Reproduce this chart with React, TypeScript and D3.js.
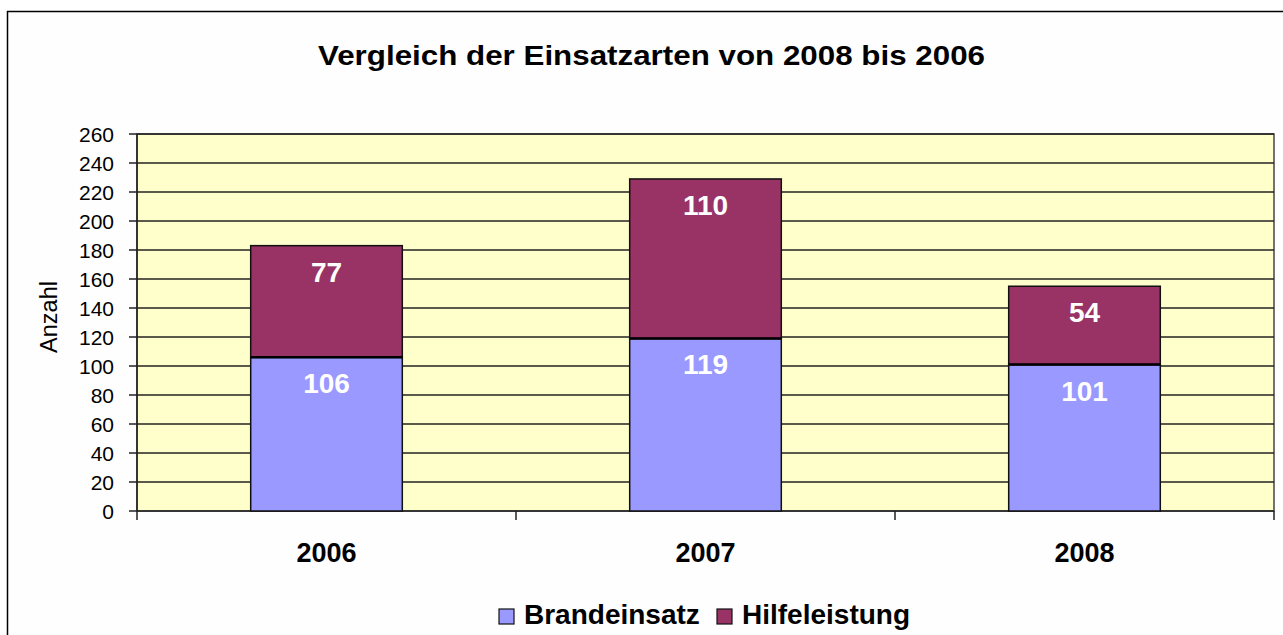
import React, { useEffect, useRef } from "react";
import * as d3 from "d3";

const categories = ["2006", "2007", "2008"];
const brandeinsatz = [106, 119, 101];
const hilfeleistung = [77, 110, 54];
const seriesNames = ["Brandeinsatz", "Hilfeleistung"];
const seriesColors = ["#9999FF", "#993366"];
const yTicks = d3.range(0, 261, 20);
const title = "Vergleich der Einsatzarten von 2008 bis 2006";
const yLabel = "Anzahl";

const W = 1283;
const H = 635;
const FONT = "Arial, 'Liberation Sans', Helvetica, sans-serif";

export default function App() {
  const ref = useRef<SVGSVGElement>(null);
  useEffect(() => {
    const svg = d3.select(ref.current);
    svg.selectAll("*").remove();

    const left = 137, right = 1274, top = 134, bottom = 511;

    // outer frame
    svg.append("rect").attr("x", 7.5).attr("y", 11.5).attr("width", W + 10).attr("height", H + 10)
      .attr("fill", "#fefefe").attr("stroke", "#000").attr("stroke-width", 1.5);

    svg.append("text").attr("x", 651.5).attr("y", 65).attr("text-anchor", "middle")
      .attr("font-family", FONT).attr("font-weight", "bold").attr("font-size", 27)
      .attr("textLength", 667).attr("lengthAdjust", "spacingAndGlyphs").text(title);

    const x = d3.scaleBand().domain(categories).range([left, right]).paddingInner(0.6).paddingOuter(0.3);
    const y = d3.scaleLinear().domain([0, 260]).range([bottom, top]);

    svg.append("rect").attr("x", left).attr("y", top).attr("width", right - left).attr("height", bottom - top)
      .attr("fill", "#FFFFCC").attr("stroke", "#444").attr("stroke-width", 1.5);

    // gridlines and ticks
    const g = svg.append("g");
    yTicks.forEach((t) => {
      g.append("line").attr("x1", left - 8).attr("x2", right).attr("y1", y(t)).attr("y2", y(t))
        .attr("stroke", "#222").attr("stroke-width", 1.5);
      g.append("text").attr("x", 114).attr("y", y(t) + 7.5).attr("text-anchor", "end")
        .attr("font-family", FONT).attr("font-size", 21).attr("fill", "#000").text(String(t));
    });

    // y axis line
    svg.append("line").attr("x1", left).attr("x2", left).attr("y1", top).attr("y2", bottom)
      .attr("stroke", "#222").attr("stroke-width", 1.5);

    // category ticks
    const step = (right - left) / categories.length;
    d3.range(categories.length + 1).forEach((i) => {
      svg.append("line").attr("x1", left + i * step).attr("x2", left + i * step)
        .attr("y1", bottom).attr("y2", bottom + 9).attr("stroke", "#222").attr("stroke-width", 1.5);
    });

    const stacked = d3.stack<number>().keys(["0", "1"]).value((i, k) => (k === "0" ? brandeinsatz[i] : hilfeleistung[i]))(
      d3.range(categories.length)
    );

    stacked.forEach((layer, si) => {
      layer.forEach((d, i) => {
        const bx = x(categories[i])!;
        svg.append("rect").attr("x", bx).attr("y", y(d[1])).attr("width", x.bandwidth())
          .attr("height", y(d[0]) - y(d[1])).attr("fill", seriesColors[si])
          .attr("stroke", "#111").attr("stroke-width", 1.5);
      });
    });
    // thicker separator
    stacked[0].forEach((d, i) => {
      const bx = x(categories[i])!;
      svg.append("line").attr("x1", bx).attr("x2", bx + x.bandwidth()).attr("y1", y(d[1])).attr("y2", y(d[1]))
        .attr("stroke", "#000").attr("stroke-width", 2.5);
    });
    stacked.forEach((layer) => {
      layer.forEach((d, i) => {
        const bx = x(categories[i])!;
        svg.append("text").attr("x", bx + x.bandwidth() / 2).attr("y", y(d[1]) + 36)
          .attr("text-anchor", "middle").attr("font-family", FONT).attr("font-weight", "bold")
          .attr("font-size", 28).attr("fill", "#fff").text(String(d[1] - d[0]));
      });
    });

    categories.forEach((c) => {
      svg.append("text").attr("x", x(c)! + x.bandwidth() / 2).attr("y", 562).attr("text-anchor", "middle")
        .attr("font-family", FONT).attr("font-weight", "bold").attr("font-size", 27).text(c);
    });

    svg.append("text").attr("transform", `translate(57,317) rotate(-90)`).attr("text-anchor", "middle")
      .attr("font-family", FONT).attr("font-size", 23.5).text(yLabel);

    // legend
    const legX = [499, 717];
    seriesNames.forEach((n, i) => {
      svg.append("rect").attr("x", legX[i]).attr("y", 609).attr("width", 15).attr("height", 15)
        .attr("fill", seriesColors[i]).attr("stroke", "#111").attr("stroke-width", 1.2);
      svg.append("text").attr("x", legX[i] + 25).attr("y", 624).attr("font-family", FONT)
        .attr("font-weight", "bold").attr("font-size", 28).text(n);
    });
  }, []);
  return (
    <svg ref={ref} width={W} height={H} style={{ position: "absolute", left: 0, top: 0, background: "#fff" }} />
  );
}
